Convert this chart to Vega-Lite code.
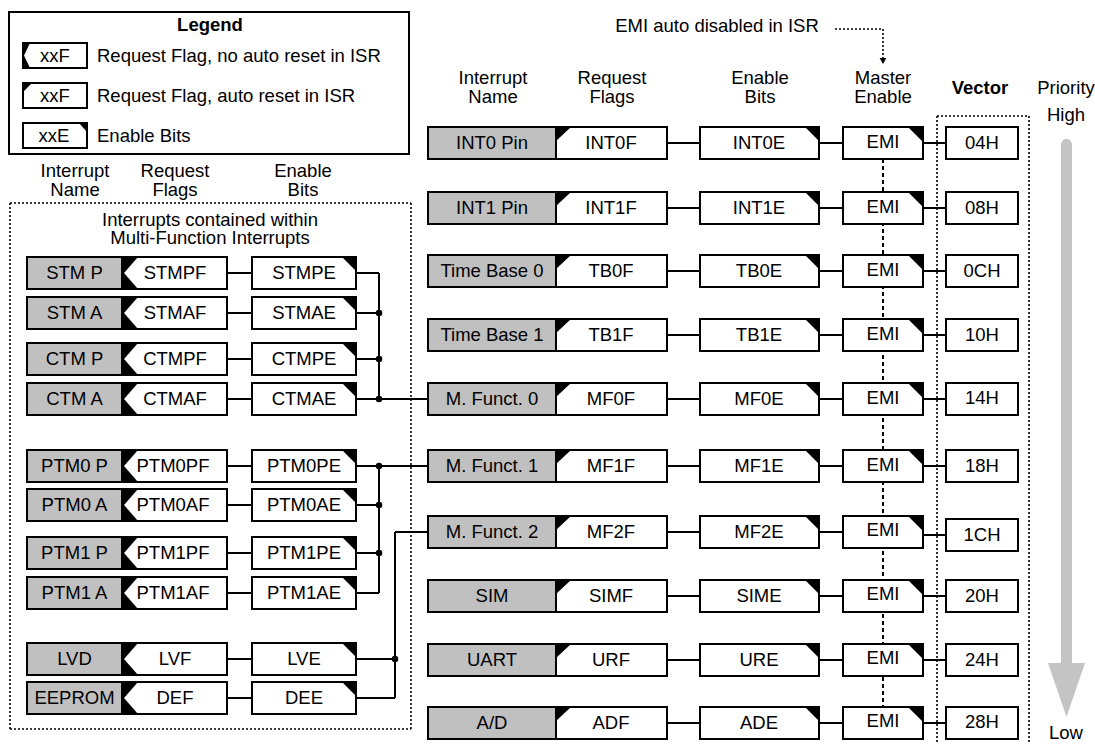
{
  "$schema": "https://vega.github.io/schema/vega-lite/v6.json",
  "width": 1095,
  "height": 744,
  "padding": 0,
  "autosize": {"type": "none"},
  "background": "white",
  "config": {"view": {"stroke": null}},
  "datasets": {
    "boxes": [
      {"x1":9,"x2":409,"y1":12,"y2":154,"role":"bit"},
      {"x1":23,"x2":87,"y1":43,"y2":68,"role":"bit"},
      {"x1":23,"x2":87,"y1":83,"y2":108,"role":"bit"},
      {"x1":23,"x2":87,"y1":123,"y2":148,"role":"bit"},
      {"x1":27,"x2":122,"y1":257,"y2":289,"role":"name"},{"x1":122,"x2":227,"y1":257,"y2":289,"role":"bit"},{"x1":252,"x2":356,"y1":257,"y2":289,"role":"bit"},
      {"x1":27,"x2":122,"y1":297,"y2":329,"role":"name"},{"x1":122,"x2":227,"y1":297,"y2":329,"role":"bit"},{"x1":252,"x2":356,"y1":297,"y2":329,"role":"bit"},
      {"x1":27,"x2":122,"y1":343,"y2":375,"role":"name"},{"x1":122,"x2":227,"y1":343,"y2":375,"role":"bit"},{"x1":252,"x2":356,"y1":343,"y2":375,"role":"bit"},
      {"x1":27,"x2":122,"y1":383,"y2":415,"role":"name"},{"x1":122,"x2":227,"y1":383,"y2":415,"role":"bit"},{"x1":252,"x2":356,"y1":383,"y2":415,"role":"bit"},
      {"x1":27,"x2":122,"y1":450,"y2":482,"role":"name"},{"x1":122,"x2":227,"y1":450,"y2":482,"role":"bit"},{"x1":252,"x2":356,"y1":450,"y2":482,"role":"bit"},
      {"x1":27,"x2":122,"y1":489,"y2":521,"role":"name"},{"x1":122,"x2":227,"y1":489,"y2":521,"role":"bit"},{"x1":252,"x2":356,"y1":489,"y2":521,"role":"bit"},
      {"x1":27,"x2":122,"y1":537,"y2":569,"role":"name"},{"x1":122,"x2":227,"y1":537,"y2":569,"role":"bit"},{"x1":252,"x2":356,"y1":537,"y2":569,"role":"bit"},
      {"x1":27,"x2":122,"y1":577,"y2":609,"role":"name"},{"x1":122,"x2":227,"y1":577,"y2":609,"role":"bit"},{"x1":252,"x2":356,"y1":577,"y2":609,"role":"bit"},
      {"x1":27,"x2":122,"y1":643,"y2":675,"role":"name"},{"x1":122,"x2":227,"y1":643,"y2":675,"role":"bit"},{"x1":252,"x2":356,"y1":643,"y2":675,"role":"bit"},
      {"x1":27,"x2":122,"y1":682,"y2":714,"role":"name"},{"x1":122,"x2":227,"y1":682,"y2":714,"role":"bit"},{"x1":252,"x2":356,"y1":682,"y2":714,"role":"bit"},
      {"x1":428,"x2":556,"y1":127,"y2":159,"role":"name"},{"x1":556,"x2":667,"y1":127,"y2":159,"role":"bit"},{"x1":700,"x2":819,"y1":127,"y2":159,"role":"bit"},{"x1":843,"x2":923,"y1":127,"y2":159,"role":"bit"},{"x1":946,"x2":1018,"y1":127,"y2":159,"role":"bit"},
      {"x1":428,"x2":556,"y1":192,"y2":224,"role":"name"},{"x1":556,"x2":667,"y1":192,"y2":224,"role":"bit"},{"x1":700,"x2":819,"y1":192,"y2":224,"role":"bit"},{"x1":843,"x2":923,"y1":192,"y2":224,"role":"bit"},{"x1":946,"x2":1018,"y1":192,"y2":224,"role":"bit"},
      {"x1":428,"x2":556,"y1":255,"y2":287,"role":"name"},{"x1":556,"x2":667,"y1":255,"y2":287,"role":"bit"},{"x1":700,"x2":819,"y1":255,"y2":287,"role":"bit"},{"x1":843,"x2":923,"y1":255,"y2":287,"role":"bit"},{"x1":946,"x2":1018,"y1":255,"y2":287,"role":"bit"},
      {"x1":428,"x2":556,"y1":319,"y2":351,"role":"name"},{"x1":556,"x2":667,"y1":319,"y2":351,"role":"bit"},{"x1":700,"x2":819,"y1":319,"y2":351,"role":"bit"},{"x1":843,"x2":923,"y1":319,"y2":351,"role":"bit"},{"x1":946,"x2":1018,"y1":319,"y2":351,"role":"bit"},
      {"x1":428,"x2":556,"y1":383,"y2":415,"role":"name"},{"x1":556,"x2":667,"y1":383,"y2":415,"role":"bit"},{"x1":700,"x2":819,"y1":383,"y2":415,"role":"bit"},{"x1":843,"x2":923,"y1":383,"y2":415,"role":"bit"},{"x1":946,"x2":1018,"y1":383,"y2":415,"role":"bit"},
      {"x1":428,"x2":556,"y1":450,"y2":482,"role":"name"},{"x1":556,"x2":667,"y1":450,"y2":482,"role":"bit"},{"x1":700,"x2":819,"y1":450,"y2":482,"role":"bit"},{"x1":843,"x2":923,"y1":450,"y2":482,"role":"bit"},{"x1":946,"x2":1018,"y1":450,"y2":482,"role":"bit"},
      {"x1":428,"x2":556,"y1":516,"y2":548,"role":"name"},{"x1":556,"x2":667,"y1":516,"y2":548,"role":"bit"},{"x1":700,"x2":819,"y1":516,"y2":548,"role":"bit"},{"x1":843,"x2":923,"y1":516,"y2":548,"role":"bit"},{"x1":946,"x2":1018,"y1":519,"y2":551,"role":"bit"},
      {"x1":428,"x2":556,"y1":580,"y2":612,"role":"name"},{"x1":556,"x2":667,"y1":580,"y2":612,"role":"bit"},{"x1":700,"x2":819,"y1":580,"y2":612,"role":"bit"},{"x1":843,"x2":923,"y1":580,"y2":612,"role":"bit"},{"x1":946,"x2":1018,"y1":580,"y2":612,"role":"bit"},
      {"x1":428,"x2":556,"y1":644,"y2":676,"role":"name"},{"x1":556,"x2":667,"y1":644,"y2":676,"role":"bit"},{"x1":700,"x2":819,"y1":644,"y2":676,"role":"bit"},{"x1":843,"x2":923,"y1":644,"y2":676,"role":"bit"},{"x1":946,"x2":1018,"y1":644,"y2":676,"role":"bit"},
      {"x1":428,"x2":556,"y1":707,"y2":739,"role":"name"},{"x1":556,"x2":667,"y1":707,"y2":739,"role":"bit"},{"x1":700,"x2":819,"y1":707,"y2":739,"role":"bit"},{"x1":843,"x2":923,"y1":707,"y2":739,"role":"bit"},{"x1":946,"x2":1018,"y1":707,"y2":739,"role":"bit"}
    ],
    "corners": [
      {"id":"g1t","x":23,"yt":43,"yb":55.5},{"id":"g1t","x":24,"yt":43,"yb":55.5},{"id":"g1t","x":30,"yt":43,"yb":43},
      {"id":"g1b","x":23,"yt":55.5,"yb":68},{"id":"g1b","x":24,"yt":55.5,"yb":68},{"id":"g1b","x":30,"yt":68,"yb":68},
      {"id":"g2","x":23,"yt":83,"yb":92},{"id":"g2","x":32,"yt":83,"yb":83},
      {"id":"g3","x":79,"yt":123,"yb":123},{"id":"g3","x":87,"yt":123,"yb":132},

      {"id":"L1t","x":122,"yt":257,"yb":273},{"id":"L1t","x":124,"yt":257,"yb":273},{"id":"L1t","x":138,"yt":257,"yb":257},
      {"id":"L1b","x":122,"yt":273,"yb":289},{"id":"L1b","x":124,"yt":273,"yb":289},{"id":"L1b","x":138,"yt":289,"yb":289},
      {"id":"L1e","x":342,"yt":257,"yb":257},{"id":"L1e","x":356,"yt":257,"yb":271},
      {"id":"L2t","x":122,"yt":297,"yb":313},{"id":"L2t","x":124,"yt":297,"yb":313},{"id":"L2t","x":138,"yt":297,"yb":297},
      {"id":"L2b","x":122,"yt":313,"yb":329},{"id":"L2b","x":124,"yt":313,"yb":329},{"id":"L2b","x":138,"yt":329,"yb":329},
      {"id":"L2e","x":342,"yt":297,"yb":297},{"id":"L2e","x":356,"yt":297,"yb":311},
      {"id":"L3t","x":122,"yt":343,"yb":359},{"id":"L3t","x":124,"yt":343,"yb":359},{"id":"L3t","x":138,"yt":343,"yb":343},
      {"id":"L3b","x":122,"yt":359,"yb":375},{"id":"L3b","x":124,"yt":359,"yb":375},{"id":"L3b","x":138,"yt":375,"yb":375},
      {"id":"L3e","x":342,"yt":343,"yb":343},{"id":"L3e","x":356,"yt":343,"yb":357},
      {"id":"L4t","x":122,"yt":383,"yb":399},{"id":"L4t","x":124,"yt":383,"yb":399},{"id":"L4t","x":138,"yt":383,"yb":383},
      {"id":"L4b","x":122,"yt":399,"yb":415},{"id":"L4b","x":124,"yt":399,"yb":415},{"id":"L4b","x":138,"yt":415,"yb":415},
      {"id":"L4e","x":342,"yt":383,"yb":383},{"id":"L4e","x":356,"yt":383,"yb":397},
      {"id":"L5t","x":122,"yt":450,"yb":466},{"id":"L5t","x":124,"yt":450,"yb":466},{"id":"L5t","x":138,"yt":450,"yb":450},
      {"id":"L5b","x":122,"yt":466,"yb":482},{"id":"L5b","x":124,"yt":466,"yb":482},{"id":"L5b","x":138,"yt":482,"yb":482},
      {"id":"L5e","x":342,"yt":450,"yb":450},{"id":"L5e","x":356,"yt":450,"yb":464},
      {"id":"L6t","x":122,"yt":489,"yb":505},{"id":"L6t","x":124,"yt":489,"yb":505},{"id":"L6t","x":138,"yt":489,"yb":489},
      {"id":"L6b","x":122,"yt":505,"yb":521},{"id":"L6b","x":124,"yt":505,"yb":521},{"id":"L6b","x":138,"yt":521,"yb":521},
      {"id":"L6e","x":342,"yt":489,"yb":489},{"id":"L6e","x":356,"yt":489,"yb":503},
      {"id":"L7t","x":122,"yt":537,"yb":553},{"id":"L7t","x":124,"yt":537,"yb":553},{"id":"L7t","x":138,"yt":537,"yb":537},
      {"id":"L7b","x":122,"yt":553,"yb":569},{"id":"L7b","x":124,"yt":553,"yb":569},{"id":"L7b","x":138,"yt":569,"yb":569},
      {"id":"L7e","x":342,"yt":537,"yb":537},{"id":"L7e","x":356,"yt":537,"yb":551},
      {"id":"L8t","x":122,"yt":577,"yb":593},{"id":"L8t","x":124,"yt":577,"yb":593},{"id":"L8t","x":138,"yt":577,"yb":577},
      {"id":"L8b","x":122,"yt":593,"yb":609},{"id":"L8b","x":124,"yt":593,"yb":609},{"id":"L8b","x":138,"yt":609,"yb":609},
      {"id":"L8e","x":342,"yt":577,"yb":577},{"id":"L8e","x":356,"yt":577,"yb":591},
      {"id":"L9t","x":122,"yt":643,"yb":659},{"id":"L9t","x":124,"yt":643,"yb":659},{"id":"L9t","x":138,"yt":643,"yb":643},
      {"id":"L9b","x":122,"yt":659,"yb":675},{"id":"L9b","x":124,"yt":659,"yb":675},{"id":"L9b","x":138,"yt":675,"yb":675},
      {"id":"L9e","x":342,"yt":643,"yb":643},{"id":"L9e","x":356,"yt":643,"yb":657},
      {"id":"L10t","x":122,"yt":682,"yb":698},{"id":"L10t","x":124,"yt":682,"yb":698},{"id":"L10t","x":138,"yt":682,"yb":682},
      {"id":"L10b","x":122,"yt":698,"yb":714},{"id":"L10b","x":124,"yt":698,"yb":714},{"id":"L10b","x":138,"yt":714,"yb":714},
      {"id":"L10e","x":342,"yt":682,"yb":682},{"id":"L10e","x":356,"yt":682,"yb":696},

      {"id":"R1f","x":556,"yt":127,"yb":141},{"id":"R1f","x":571,"yt":127,"yb":127},
      {"id":"R1e","x":805,"yt":127,"yb":127},{"id":"R1e","x":819,"yt":127,"yb":141},
      {"id":"R1m","x":908,"yt":127,"yb":127},{"id":"R1m","x":923,"yt":127,"yb":142},
      {"id":"R2f","x":556,"yt":192,"yb":206},{"id":"R2f","x":571,"yt":192,"yb":192},
      {"id":"R2e","x":805,"yt":192,"yb":192},{"id":"R2e","x":819,"yt":192,"yb":206},
      {"id":"R2m","x":908,"yt":192,"yb":192},{"id":"R2m","x":923,"yt":192,"yb":207},
      {"id":"R3f","x":556,"yt":255,"yb":269},{"id":"R3f","x":571,"yt":255,"yb":255},
      {"id":"R3e","x":805,"yt":255,"yb":255},{"id":"R3e","x":819,"yt":255,"yb":269},
      {"id":"R3m","x":908,"yt":255,"yb":255},{"id":"R3m","x":923,"yt":255,"yb":270},
      {"id":"R4f","x":556,"yt":319,"yb":333},{"id":"R4f","x":571,"yt":319,"yb":319},
      {"id":"R4e","x":805,"yt":319,"yb":319},{"id":"R4e","x":819,"yt":319,"yb":333},
      {"id":"R4m","x":908,"yt":319,"yb":319},{"id":"R4m","x":923,"yt":319,"yb":334},
      {"id":"R5f","x":556,"yt":383,"yb":397},{"id":"R5f","x":571,"yt":383,"yb":383},
      {"id":"R5e","x":805,"yt":383,"yb":383},{"id":"R5e","x":819,"yt":383,"yb":397},
      {"id":"R5m","x":908,"yt":383,"yb":383},{"id":"R5m","x":923,"yt":383,"yb":398},
      {"id":"R6f","x":556,"yt":450,"yb":464},{"id":"R6f","x":571,"yt":450,"yb":450},
      {"id":"R6e","x":805,"yt":450,"yb":450},{"id":"R6e","x":819,"yt":450,"yb":464},
      {"id":"R6m","x":908,"yt":450,"yb":450},{"id":"R6m","x":923,"yt":450,"yb":465},
      {"id":"R7f","x":556,"yt":516,"yb":530},{"id":"R7f","x":571,"yt":516,"yb":516},
      {"id":"R7e","x":805,"yt":516,"yb":516},{"id":"R7e","x":819,"yt":516,"yb":530},
      {"id":"R7m","x":908,"yt":516,"yb":516},{"id":"R7m","x":923,"yt":516,"yb":531},
      {"id":"R8f","x":556,"yt":580,"yb":594},{"id":"R8f","x":571,"yt":580,"yb":580},
      {"id":"R8e","x":805,"yt":580,"yb":580},{"id":"R8e","x":819,"yt":580,"yb":594},
      {"id":"R8m","x":908,"yt":580,"yb":580},{"id":"R8m","x":923,"yt":580,"yb":595},
      {"id":"R9f","x":556,"yt":644,"yb":658},{"id":"R9f","x":571,"yt":644,"yb":644},
      {"id":"R9e","x":805,"yt":644,"yb":644},{"id":"R9e","x":819,"yt":644,"yb":658},
      {"id":"R9m","x":908,"yt":644,"yb":644},{"id":"R9m","x":923,"yt":644,"yb":659},
      {"id":"R10f","x":556,"yt":707,"yb":721},{"id":"R10f","x":571,"yt":707,"yb":707},
      {"id":"R10e","x":805,"yt":707,"yb":707},{"id":"R10e","x":819,"yt":707,"yb":721},
      {"id":"R10m","x":908,"yt":707,"yb":707},{"id":"R10m","x":923,"yt":707,"yb":722}
    ],
    "wires": [
      {"x1":227,"x2":252,"y1":273,"y2":273},{"x1":356,"x2":379,"y1":273,"y2":273},
      {"x1":227,"x2":252,"y1":313,"y2":313},{"x1":356,"x2":379,"y1":313,"y2":313},
      {"x1":227,"x2":252,"y1":359,"y2":359},{"x1":356,"x2":379,"y1":359,"y2":359},
      {"x1":227,"x2":252,"y1":399,"y2":399},{"x1":356,"x2":379,"y1":399,"y2":399},
      {"x1":227,"x2":252,"y1":466,"y2":466},{"x1":356,"x2":379,"y1":466,"y2":466},
      {"x1":227,"x2":252,"y1":505,"y2":505},{"x1":356,"x2":379,"y1":505,"y2":505},
      {"x1":227,"x2":252,"y1":553,"y2":553},{"x1":356,"x2":379,"y1":553,"y2":553},
      {"x1":227,"x2":252,"y1":593,"y2":593},{"x1":356,"x2":379,"y1":593,"y2":593},
      {"x1":227,"x2":252,"y1":659,"y2":659},{"x1":356,"x2":395,"y1":659,"y2":659},
      {"x1":227,"x2":252,"y1":698,"y2":698},{"x1":356,"x2":395,"y1":698,"y2":698},
      {"x1":379,"x2":379,"y1":273,"y2":399},{"x1":379,"x2":428,"y1":399,"y2":399},
      {"x1":379,"x2":379,"y1":466,"y2":593},{"x1":379,"x2":428,"y1":466,"y2":466},
      {"x1":395,"x2":395,"y1":532,"y2":698},{"x1":395,"x2":428,"y1":532,"y2":532},
      {"x1":667,"x2":700,"y1":143,"y2":143},{"x1":819,"x2":843,"y1":143,"y2":143},{"x1":923,"x2":946,"y1":143,"y2":143},
      {"x1":667,"x2":700,"y1":208,"y2":208},{"x1":819,"x2":843,"y1":208,"y2":208},{"x1":923,"x2":946,"y1":208,"y2":208},
      {"x1":667,"x2":700,"y1":271,"y2":271},{"x1":819,"x2":843,"y1":271,"y2":271},{"x1":923,"x2":946,"y1":271,"y2":271},
      {"x1":667,"x2":700,"y1":335,"y2":335},{"x1":819,"x2":843,"y1":335,"y2":335},{"x1":923,"x2":946,"y1":335,"y2":335},
      {"x1":667,"x2":700,"y1":399,"y2":399},{"x1":819,"x2":843,"y1":399,"y2":399},{"x1":923,"x2":946,"y1":399,"y2":399},
      {"x1":667,"x2":700,"y1":466,"y2":466},{"x1":819,"x2":843,"y1":466,"y2":466},{"x1":923,"x2":946,"y1":466,"y2":466},
      {"x1":667,"x2":700,"y1":532,"y2":532},{"x1":819,"x2":843,"y1":532,"y2":532},{"x1":923,"x2":946,"y1":535,"y2":535},
      {"x1":667,"x2":700,"y1":596,"y2":596},{"x1":819,"x2":843,"y1":596,"y2":596},{"x1":923,"x2":946,"y1":596,"y2":596},
      {"x1":667,"x2":700,"y1":660,"y2":660},{"x1":819,"x2":843,"y1":660,"y2":660},{"x1":923,"x2":946,"y1":660,"y2":660},
      {"x1":667,"x2":700,"y1":723,"y2":723},{"x1":819,"x2":843,"y1":723,"y2":723},{"x1":923,"x2":946,"y1":723,"y2":723}
    ],
    "dotted": [
      {"x1":10,"x2":411,"y1":203,"y2":203},
      {"x1":10,"x2":411,"y1":729,"y2":729},
      {"x1":10,"x2":10,"y1":203,"y2":729},
      {"x1":411,"x2":411,"y1":203,"y2":729},
      {"x1":937,"x2":1029,"y1":116,"y2":116},
      {"x1":937,"x2":937,"y1":116,"y2":744},
      {"x1":1029,"x2":1029,"y1":116,"y2":744},
      {"x1":835,"x2":883,"y1":29,"y2":29},
      {"x1":883,"x2":883,"y1":29,"y2":58}
    ],
    "dashed": [
      {"x1":883,"x2":883,"y1":159,"y2":707}
    ],
    "junctions": [
      {"x":379,"y":313},{"x":379,"y":359},{"x":379,"y":399},
      {"x":379,"y":466},{"x":379,"y":505},{"x":379,"y":553},
      {"x":395,"y":659}
    ],
    "emiArrow": [{"x":883,"y":61}],
    "shaft": [{"x1":1061,"x2":1072,"y1":143,"y2":665}],
    "shaftTop": [{"x":1066.5,"y":143.5}],
    "head": [
      {"x":1048,"yt":663,"yb":663},
      {"x":1066.5,"yt":663,"yb":717},
      {"x":1085,"yt":663,"yb":663}
    ],
    "labels": [
      {"x":55,"y":56,"t":"xxF"},{"x":55,"y":96,"t":"xxF"},{"x":54,"y":136,"t":"xxE"},
      {"x":75,"y":171,"t":"Interrupt"},{"x":75,"y":190,"t":"Name"},
      {"x":175,"y":171,"t":"Request"},{"x":175,"y":190,"t":"Flags"},
      {"x":303,"y":171,"t":"Enable"},{"x":303,"y":190,"t":"Bits"},
      {"x":210,"y":220,"t":"Interrupts contained within"},
      {"x":210,"y":238,"t":"Multi-Function Interrupts"},
      {"x":74.5,"y":273,"t":"STM P"},{"x":175,"y":273,"t":"STMPF"},{"x":304,"y":273,"t":"STMPE"},
      {"x":74.5,"y":313,"t":"STM A"},{"x":175,"y":313,"t":"STMAF"},{"x":304,"y":313,"t":"STMAE"},
      {"x":74.5,"y":359,"t":"CTM P"},{"x":175,"y":359,"t":"CTMPF"},{"x":304,"y":359,"t":"CTMPE"},
      {"x":74.5,"y":399,"t":"CTM A"},{"x":175,"y":399,"t":"CTMAF"},{"x":304,"y":399,"t":"CTMAE"},
      {"x":74.5,"y":466,"t":"PTM0 P"},{"x":173,"y":466,"t":"PTM0PF"},{"x":304,"y":466,"t":"PTM0PE"},
      {"x":74.5,"y":505,"t":"PTM0 A"},{"x":173,"y":505,"t":"PTM0AF"},{"x":304,"y":505,"t":"PTM0AE"},
      {"x":74.5,"y":553,"t":"PTM1 P"},{"x":173,"y":553,"t":"PTM1PF"},{"x":304,"y":553,"t":"PTM1PE"},
      {"x":74.5,"y":593,"t":"PTM1 A"},{"x":173,"y":593,"t":"PTM1AF"},{"x":304,"y":593,"t":"PTM1AE"},
      {"x":74.5,"y":659,"t":"LVD"},{"x":175,"y":659,"t":"LVF"},{"x":304,"y":659,"t":"LVE"},
      {"x":74.5,"y":698,"t":"EEPROM"},{"x":175,"y":698,"t":"DEF"},{"x":304,"y":698,"t":"DEE"},
      {"x":717,"y":26,"t":"EMI auto disabled in ISR"},
      {"x":493,"y":78,"t":"Interrupt"},{"x":493,"y":97,"t":"Name"},
      {"x":612,"y":78,"t":"Request"},{"x":612,"y":97,"t":"Flags"},
      {"x":760,"y":78,"t":"Enable"},{"x":760,"y":97,"t":"Bits"},
      {"x":883,"y":78,"t":"Master"},{"x":883,"y":97,"t":"Enable"},
      {"x":1066,"y":88,"t":"Priority"},{"x":1066,"y":115,"t":"High"},{"x":1066,"y":733,"t":"Low"},
      {"x":492,"y":143,"t":"INT0 Pin"},{"x":611,"y":143,"t":"INT0F"},{"x":759,"y":143,"t":"INT0E"},{"x":883,"y":142,"t":"EMI"},{"x":982,"y":143,"t":"04H"},
      {"x":492,"y":208,"t":"INT1 Pin"},{"x":611,"y":208,"t":"INT1F"},{"x":759,"y":208,"t":"INT1E"},{"x":883,"y":207,"t":"EMI"},{"x":982,"y":208,"t":"08H"},
      {"x":492,"y":271,"t":"Time Base 0"},{"x":611,"y":271,"t":"TB0F"},{"x":759,"y":271,"t":"TB0E"},{"x":883,"y":270,"t":"EMI"},{"x":982,"y":271,"t":"0CH"},
      {"x":492,"y":335,"t":"Time Base 1"},{"x":611,"y":335,"t":"TB1F"},{"x":759,"y":335,"t":"TB1E"},{"x":883,"y":334,"t":"EMI"},{"x":982,"y":335,"t":"10H"},
      {"x":492,"y":399,"t":"M. Funct. 0"},{"x":611,"y":399,"t":"MF0F"},{"x":759,"y":399,"t":"MF0E"},{"x":883,"y":398,"t":"EMI"},{"x":982,"y":398,"t":"14H"},
      {"x":492,"y":466,"t":"M. Funct. 1"},{"x":611,"y":466,"t":"MF1F"},{"x":759,"y":466,"t":"MF1E"},{"x":883,"y":465,"t":"EMI"},{"x":982,"y":466,"t":"18H"},
      {"x":492,"y":532,"t":"M. Funct. 2"},{"x":611,"y":532,"t":"MF2F"},{"x":759,"y":532,"t":"MF2E"},{"x":883,"y":530,"t":"EMI"},{"x":982,"y":535,"t":"1CH"},
      {"x":492,"y":596,"t":"SIM"},{"x":611,"y":596,"t":"SIMF"},{"x":759,"y":596,"t":"SIME"},{"x":883,"y":594,"t":"EMI"},{"x":982,"y":596,"t":"20H"},
      {"x":492,"y":660,"t":"UART"},{"x":611,"y":660,"t":"URF"},{"x":759,"y":660,"t":"URE"},{"x":883,"y":658,"t":"EMI"},{"x":982,"y":660,"t":"24H"},
      {"x":492,"y":723,"t":"A/D"},{"x":611,"y":723,"t":"ADF"},{"x":759,"y":723,"t":"ADE"},{"x":883,"y":721,"t":"EMI"},{"x":982,"y":722,"t":"28H"}
    ],
    "legendText": [
      {"x":97,"y":56,"t":"Request Flag, no auto reset in ISR"},
      {"x":97,"y":96,"t":"Request Flag, auto reset in ISR"},
      {"x":97,"y":136,"t":"Enable Bits"}
    ],
    "boldText": [
      {"x":210,"y":25,"t":"Legend"},
      {"x":980,"y":88,"t":"Vector"}
    ]
  },
  "layer": [
    {
      "data": {"name": "dotted"},
      "mark": {"type": "rule", "stroke": "black", "strokeWidth": 1.6, "strokeDash": [2, 2]},
      "encoding": {
        "x": {"field": "x1", "type": "quantitative", "scale": {"domain": [0, 1095], "nice": false, "zero": false}, "axis": null},
        "x2": {"field": "x2"},
        "y": {"field": "y1", "type": "quantitative", "scale": {"domain": [0, 744], "nice": false, "zero": false, "reverse": true}, "axis": null},
        "y2": {"field": "y2"}
      }
    },
    {
      "data": {"name": "dashed"},
      "mark": {"type": "rule", "stroke": "black", "strokeWidth": 2, "strokeDash": [4, 3]},
      "encoding": {
        "x": {"field": "x1", "type": "quantitative", "scale": {"domain": [0, 1095], "nice": false, "zero": false}, "axis": null},
        "x2": {"field": "x2"},
        "y": {"field": "y1", "type": "quantitative", "scale": {"domain": [0, 744], "nice": false, "zero": false, "reverse": true}, "axis": null},
        "y2": {"field": "y2"}
      }
    },
    {
      "data": {"name": "wires"},
      "mark": {"type": "rule", "stroke": "black", "strokeWidth": 2},
      "encoding": {
        "x": {"field": "x1", "type": "quantitative", "scale": {"domain": [0, 1095], "nice": false, "zero": false}, "axis": null},
        "x2": {"field": "x2"},
        "y": {"field": "y1", "type": "quantitative", "scale": {"domain": [0, 744], "nice": false, "zero": false, "reverse": true}, "axis": null},
        "y2": {"field": "y2"}
      }
    },
    {
      "data": {"name": "shaft"},
      "mark": {"type": "rect", "fill": "#c4c4c4", "strokeWidth": 0},
      "encoding": {
        "x": {"field": "x1", "type": "quantitative", "scale": {"domain": [0, 1095], "nice": false, "zero": false}, "axis": null},
        "x2": {"field": "x2"},
        "y": {"field": "y1", "type": "quantitative", "scale": {"domain": [0, 744], "nice": false, "zero": false, "reverse": true}, "axis": null},
        "y2": {"field": "y2"}
      }
    },
    {
      "data": {"name": "shaftTop"},
      "mark": {"type": "point", "shape": "circle", "filled": true, "fill": "#c4c4c4", "size": 95, "opacity": 1, "strokeWidth": 0},
      "encoding": {
        "x": {"field": "x", "type": "quantitative", "scale": {"domain": [0, 1095], "nice": false, "zero": false}, "axis": null},
        "y": {"field": "y", "type": "quantitative", "scale": {"domain": [0, 744], "nice": false, "zero": false, "reverse": true}, "axis": null}
      }
    },
    {
      "data": {"name": "head"},
      "mark": {"type": "area", "orient": "vertical", "fill": "#c4c4c4", "interpolate": "linear", "opacity": 1},
      "encoding": {
        "x": {"field": "x", "type": "quantitative", "scale": {"domain": [0, 1095], "nice": false, "zero": false}, "axis": null},
        "y": {"field": "yt", "type": "quantitative", "scale": {"domain": [0, 744], "nice": false, "zero": false, "reverse": true}, "axis": null},
        "y2": {"field": "yb"}
      }
    },
    {
      "data": {"name": "boxes"},
      "mark": {"type": "rect", "stroke": "black", "strokeWidth": 2, "opacity": 1},
      "encoding": {
        "x": {"field": "x1", "type": "quantitative", "scale": {"domain": [0, 1095], "nice": false, "zero": false}, "axis": null},
        "x2": {"field": "x2"},
        "y": {"field": "y1", "type": "quantitative", "scale": {"domain": [0, 744], "nice": false, "zero": false, "reverse": true}, "axis": null},
        "y2": {"field": "y2"},
        "fill": {"field": "role", "type": "nominal", "scale": {"domain": ["name", "bit"], "range": ["#c0c0c0", "#ffffff"]}, "legend": null}
      }
    },
    {
      "data": {"name": "corners"},
      "mark": {"type": "area", "orient": "vertical", "fill": "black", "interpolate": "linear", "opacity": 1},
      "encoding": {
        "x": {"field": "x", "type": "quantitative", "scale": {"domain": [0, 1095], "nice": false, "zero": false}, "axis": null},
        "y": {"field": "yt", "type": "quantitative", "scale": {"domain": [0, 744], "nice": false, "zero": false, "reverse": true}, "axis": null},
        "y2": {"field": "yb"},
        "detail": {"field": "id", "type": "nominal"}
      }
    },
    {
      "data": {"name": "junctions"},
      "mark": {"type": "point", "shape": "circle", "filled": true, "fill": "black", "size": 42, "opacity": 1, "strokeWidth": 0},
      "encoding": {
        "x": {"field": "x", "type": "quantitative", "scale": {"domain": [0, 1095], "nice": false, "zero": false}, "axis": null},
        "y": {"field": "y", "type": "quantitative", "scale": {"domain": [0, 744], "nice": false, "zero": false, "reverse": true}, "axis": null}
      }
    },
    {
      "data": {"name": "emiArrow"},
      "mark": {"type": "point", "shape": "triangle-down", "filled": true, "fill": "black", "size": 45, "opacity": 1, "strokeWidth": 0},
      "encoding": {
        "x": {"field": "x", "type": "quantitative", "scale": {"domain": [0, 1095], "nice": false, "zero": false}, "axis": null},
        "y": {"field": "y", "type": "quantitative", "scale": {"domain": [0, 744], "nice": false, "zero": false, "reverse": true}, "axis": null}
      }
    },
    {
      "data": {"name": "labels"},
      "mark": {"type": "text", "font": "Liberation Sans", "fontSize": 18.5, "align": "center", "baseline": "middle", "fill": "black"},
      "encoding": {
        "x": {"field": "x", "type": "quantitative", "scale": {"domain": [0, 1095], "nice": false, "zero": false}, "axis": null},
        "y": {"field": "y", "type": "quantitative", "scale": {"domain": [0, 744], "nice": false, "zero": false, "reverse": true}, "axis": null},
        "text": {"field": "t", "type": "nominal"}
      }
    },
    {
      "data": {"name": "legendText"},
      "mark": {"type": "text", "font": "Liberation Sans", "fontSize": 18.5, "align": "left", "baseline": "middle", "fill": "black"},
      "encoding": {
        "x": {"field": "x", "type": "quantitative", "scale": {"domain": [0, 1095], "nice": false, "zero": false}, "axis": null},
        "y": {"field": "y", "type": "quantitative", "scale": {"domain": [0, 744], "nice": false, "zero": false, "reverse": true}, "axis": null},
        "text": {"field": "t", "type": "nominal"}
      }
    },
    {
      "data": {"name": "boldText"},
      "mark": {"type": "text", "font": "Liberation Sans", "fontSize": 18.5, "fontWeight": "bold", "align": "center", "baseline": "middle", "fill": "black"},
      "encoding": {
        "x": {"field": "x", "type": "quantitative", "scale": {"domain": [0, 1095], "nice": false, "zero": false}, "axis": null},
        "y": {"field": "y", "type": "quantitative", "scale": {"domain": [0, 744], "nice": false, "zero": false, "reverse": true}, "axis": null},
        "text": {"field": "t", "type": "nominal"}
      }
    }
  ]
}
